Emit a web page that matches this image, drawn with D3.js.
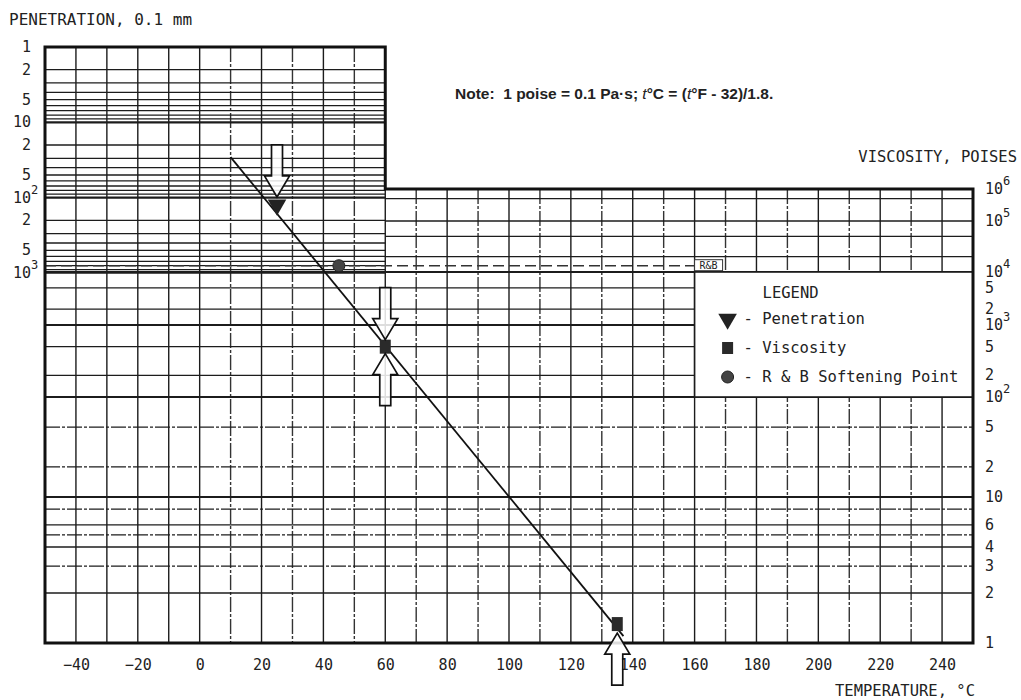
<!DOCTYPE html>
<html>
<head>
<meta charset="utf-8">
<style>
    html, body {
        margin: 0;
        padding: 0;
        background: #fff;
    }

    svg {
        display: block;
    }

    text {
        font-family: "DejaVu Sans Mono", monospace;
        fill: #222;
    }
</style>
</head>
<body>
<div id="chart"></div>
<script src="https://cdn.jsdelivr.net/npm/d3@7/dist/d3.min.js"></script>
<script>
    "use strict";

    const WIDTH = 1021;
    const HEIGHT = 700;

    // temperature, deg C
    const tempGrid = d3.range(-40, 241, 10);
    const tempTicks = [-40, -20, 0, 20, 40, 60, 80, 100, 120, 140, 160, 180, 200, 220, 240];

    // penetration, 0.1 mm (upper left block)
    const penGrid = [2, 3, 4, 5, 6, 7, 8, 9, 10, 20, 30, 40, 50, 60, 70, 80, 90,
        100, 200, 300, 400, 500, 600, 700, 800, 900, 1000];
    const penTicks = [1, 2, 5, 10, 20, 50, 100, 200, 500, 1000];
    const penTickText = ["1", "2", "5", "10", "2", "5", "10", "2", "5", "10"];
    const penTickSup = ["", "", "", "", "", "", "2", "", "", "3"];

    // viscosity, poises
    const viscGrid = [2, 3, 4, 5, 6, 8, 10, 20, 50, 100, 200, 500, 1000, 2000, 5000, 10000];
    const viscGridUpper = [20000, 50000, 100000, 500000];
    const viscDashed = [3, 5, 8, 20, 50];
    const viscTicks = [1e6, 1e5, 1e4, 5000, 2000, 1000, 500, 200, 100, 50, 20, 10, 6, 4, 3, 2, 1];
    const viscTickText = ["10", "10", "10", "5", "2", "10", "5", "2", "10", "5", "2", "10", "6", "4", "3", "2", "1"];
    const viscTickSup = ["6", "5", "4", "", "", "3", "", "", "2", "", "", "", "", "", "", "", ""];

    // test results
    const penTemp = [25];
    const penValue = [125];
    const viscTemp = [60, 135];
    const viscValue = [500, 1.3];
    const rbTemp = [45];
    const rbPen = [800];

    // straight line drawn through the results
    const fitFromTemp = 10;
    const fitFromPen = 29;
    const fitToTemp = 137;
    const fitToVisc = 1.1;

    const legendItems = ["Penetration", "Viscosity", "R & B Softening Point"];

    const LEFT = 45, RIGHT = 973, TOP = 47, BOTTOM = 643;
    const GRID = "#1c1c1c";

    const x = d3.scaleLinear().domain([-50, 250]).range([LEFT, RIGHT]);
    const yPen = d3.scaleLog().domain([1, 1000]).range([TOP, 273]);

    // double-log viscosity ruling, calibrated by decade
    const viscKnots = [1, 2, 4, 10, 100, 1e3, 1e4, 1e5, 1e6];
    const viscLin = d3.scaleLinear()
        .domain(viscKnots.map(Math.log10))
        .range([643, 593, 547, 497, 397, 325, 272, 221, 189]);
    const yVisc = function (v) {
        return viscLin(Math.log10(v));
    };

    const svg = d3.select("#chart").append("svg")
        .attr("width", WIDTH)
        .attr("height", HEIGHT);

    const x60 = x(60);
    const viscTop = yVisc(1e6);

    // vertical ruling
    svg.append("g").selectAll("line")
        .data(tempGrid)
        .enter()
        .append("line")
        .attr("x1", d => x(d)).attr("x2", d => x(d))
        .attr("y1", d => d <= 60 ? TOP : viscTop)
        .attr("y2", BOTTOM)
        .attr("stroke", d => (d > 0 && d % 20 !== 0) ? "#333" : GRID)
        .attr("stroke-width", 1.4)
        .attr("stroke-dasharray", d => (d > 0 && d % 20 !== 0) ? "15,2,3,2" : null);

    // penetration ruling
    svg.append("g").selectAll("line")
        .data(penGrid)
        .enter()
        .append("line")
        .attr("x1", LEFT).attr("x2", x60)
        .attr("y1", d => yPen(d)).attr("y2", d => yPen(d))
        .attr("stroke", GRID)
        .attr("stroke-width", d => (d === 10 || d === 100) ? 2.2 : 1.3);

    // viscosity ruling
    svg.append("g").selectAll("line")
        .data(viscGrid)
        .enter()
        .append("line")
        .attr("x1", LEFT).attr("x2", RIGHT)
        .attr("y1", d => yVisc(d)).attr("y2", d => yVisc(d))
        .attr("stroke", GRID)
        .attr("stroke-width", d => [10, 100, 1000, 10000].includes(d) ? 2 : 1.3)
        .attr("stroke-dasharray", d => viscDashed.includes(d) ? "15,2,3,2" : null);

    svg.append("g").selectAll("line")
        .data(viscGridUpper)
        .enter()
        .append("line")
        .attr("x1", x60).attr("x2", RIGHT)
        .attr("y1", d => yVisc(d)).attr("y2", d => yVisc(d))
        .attr("stroke", GRID)
        .attr("stroke-width", 1.4);

    // legend panel covers the ruling
    const lgX = x(160), lgY = yVisc(1e4), lgB = yVisc(100);
    svg.append("rect")
        .attr("x", lgX).attr("y", lgY)
        .attr("width", RIGHT - lgX).attr("height", lgB - lgY)
        .attr("fill", "#fff")
        .attr("stroke", GRID)
        .attr("stroke-width", 1.6);

    // R&B reference line
    const rbY = yPen(800);
    svg.append("line")
        .attr("x1", LEFT).attr("x2", lgX)
        .attr("y1", rbY).attr("y2", rbY)
        .attr("stroke", "#333")
        .attr("stroke-width", 1.5)
        .attr("stroke-dasharray", "11,5");
    svg.append("rect")
        .attr("x", lgX).attr("y", rbY - 6)
        .attr("width", 28).attr("height", 11)
        .attr("fill", "#fff")
        .attr("stroke", "#333")
        .attr("stroke-width", 1);
    svg.append("text")
        .attr("x", lgX + 14).attr("y", rbY + 3.5)
        .attr("text-anchor", "middle")
        .style("font-size", "10px")
        .text("R&B");

    // heavy outline
    svg.append("path")
        .attr("d", "M" + LEFT + "," + TOP + "H" + x60 + "V" + viscTop + "H" + RIGHT +
            "V" + BOTTOM + "H" + LEFT + "Z")
        .attr("fill", "none")
        .attr("stroke", "#111")
        .attr("stroke-width", 3);

    // temperature axis
    const xAxis = svg.append("g")
        .attr("transform", "translate(0," + BOTTOM + ")")
        .call(d3.axisBottom(x).tickValues(tempTicks).tickSize(0).tickPadding(16));
    xAxis.select(".domain").remove();
    xAxis.selectAll("text")
        .style("font-family", "DejaVu Sans Mono, monospace")
        .style("font-size", "15px")
        .attr("fill", "#222");

    // penetration labels (left)
    const penLab = svg.append("g").selectAll("g")
        .data(penTicks)
        .enter()
        .append("g");
    penLab.append("text")
        .attr("x", 31)
        .attr("y", d => yPen(d) + 5)
        .attr("text-anchor", "end")
        .style("font-size", "15px")
        .text((d, i) => penTickText[i]);
    penLab.append("text")
        .attr("x", 31)
        .attr("y", d => yPen(d) - 4)
        .style("font-size", "12px")
        .text((d, i) => penTickSup[i]);

    // viscosity labels (right)
    const viscLab = svg.append("g").selectAll("g")
        .data(viscTicks)
        .enter()
        .append("g");
    viscLab.append("text")
        .attr("x", 985)
        .attr("y", d => yVisc(d) + 5)
        .style("font-size", "15px")
        .text((d, i) => viscTickText[i]);
    viscLab.append("text")
        .attr("x", 1003)
        .attr("y", d => yVisc(d) - 4)
        .style("font-size", "12px")
        .text((d, i) => viscTickSup[i]);

    // axis titles
    svg.append("text")
        .attr("x", 9).attr("y", 25)
        .style("font-size", "16px")
        .text("PENETRATION, 0.1 mm");
    svg.append("text")
        .attr("x", 1017).attr("y", 162)
        .attr("text-anchor", "end")
        .style("font-size", "15.5px")
        .text("VISCOSITY, POISES");
    svg.append("text")
        .attr("x", 975).attr("y", 696)
        .attr("text-anchor", "end")
        .style("font-size", "15.5px")
        .text("TEMPERATURE, °C");

    const note = svg.append("text")
        .attr("x", 455).attr("y", 99)
        .attr("xml:space", "preserve")
        .style("font-family", "Liberation Sans, Arial, sans-serif")
        .style("font-weight", "bold")
        .style("font-size", "15.5px");
    note.append("tspan").text("Note:  1 poise = 0.1 Pa·s; ");
    note.append("tspan").style("font-style", "italic").style("font-weight", "normal").text("t");
    note.append("tspan").text("°C = (");
    note.append("tspan").style("font-style", "italic").style("font-weight", "normal").text("t");
    note.append("tspan").text("°F - 32)/1.8.");

    // fitted line
    svg.append("line")
        .attr("x1", x(fitFromTemp)).attr("y1", yPen(fitFromPen))
        .attr("x2", x(fitToTemp)).attr("y2", yVisc(fitToVisc))
        .attr("stroke", "#111")
        .attr("stroke-width", 1.8);

    // markers
    const triangle = d3.symbol().type(d3.symbolTriangle).size(150);
    const penPts = penTemp.map((t, i) => ({x: x(t), y: yPen(penValue[i])}));
    const viscPts = viscTemp.map((t, i) => ({x: x(t), y: yVisc(viscValue[i])}));
    const rbPts = rbTemp.map((t, i) => ({x: x(t), y: yPen(rbPen[i])}));

    svg.append("g").selectAll("path")
        .data(penPts)
        .enter()
        .append("path")
        .attr("d", triangle)
        .attr("transform", d => "translate(" + d.x + "," + d.y + ") rotate(180)")
        .attr("fill", "#222");

    svg.append("g").selectAll("rect")
        .data(viscPts)
        .enter()
        .append("rect")
        .attr("x", d => d.x - 5.5).attr("y", d => d.y - 7)
        .attr("width", 11).attr("height", 14)
        .attr("fill", "#2a2a2a");

    svg.append("g").selectAll("circle")
        .data(rbPts)
        .enter()
        .append("circle")
        .attr("cx", d => d.x).attr("cy", d => d.y)
        .attr("r", 6)
        .attr("fill", "#444")
        .attr("stroke", "#222");

    // hollow pointer arrows: dir 1 points down onto the mark, -1 points up
    function arrowPath(tipX, tipY, dir) {
        const pts = [[0, 0], [12.5, -21], [5.5, -21], [5.5, -52], [-5.5, -52], [-5.5, -21], [-12.5, -21]];
        return "M" + pts.map(p => (tipX + p[0]) + "," + (tipY + p[1] * dir)).join("L") + "Z";
    }

    const arrows = [
        {x: penPts[0].x, y: penPts[0].y - 8, dir: 1},
        {x: viscPts[0].x, y: viscPts[0].y - 7, dir: 1},
        {x: viscPts[0].x, y: viscPts[0].y + 7, dir: -1},
        {x: viscPts[1].x, y: viscPts[1].y + 9, dir: -1}
    ];
    svg.append("g").selectAll("path")
        .data(arrows)
        .enter()
        .append("path")
        .attr("d", d => arrowPath(d.x, d.y, d.dir))
        .attr("fill", "#fff")
        .attr("fill-opacity", 0.85)
        .attr("stroke", "#111")
        .attr("stroke-width", 1.7);

    // legend
    svg.append("text")
        .attr("x", lgX + 68).attr("y", lgY + 26)
        .style("font-size", "15.5px")
        .text("LEGEND");

    const rowY = [lgY + 47, lgY + 76, lgY + 105];
    const lgMarkX = lgX + 33;
    svg.append("path")
        .attr("d", triangle)
        .attr("transform", "translate(" + lgMarkX + "," + rowY[0] + ") rotate(180)")
        .attr("fill", "#222");
    svg.append("rect")
        .attr("x", lgMarkX - 5.5).attr("y", rowY[1] - 6)
        .attr("width", 11).attr("height", 12)
        .attr("fill", "#2a2a2a");
    svg.append("circle")
        .attr("cx", lgMarkX).attr("cy", rowY[2])
        .attr("r", 6)
        .attr("fill", "#444")
        .attr("stroke", "#222");

    svg.append("g").selectAll("text")
        .data(legendItems)
        .enter()
        .append("text")
        .attr("x", lgX + 49)
        .attr("y", (d, i) => rowY[i] + 5)
        .style("font-size", "15.5px")
        .text(d => "- " + d);
</script>
</body>
</html>
